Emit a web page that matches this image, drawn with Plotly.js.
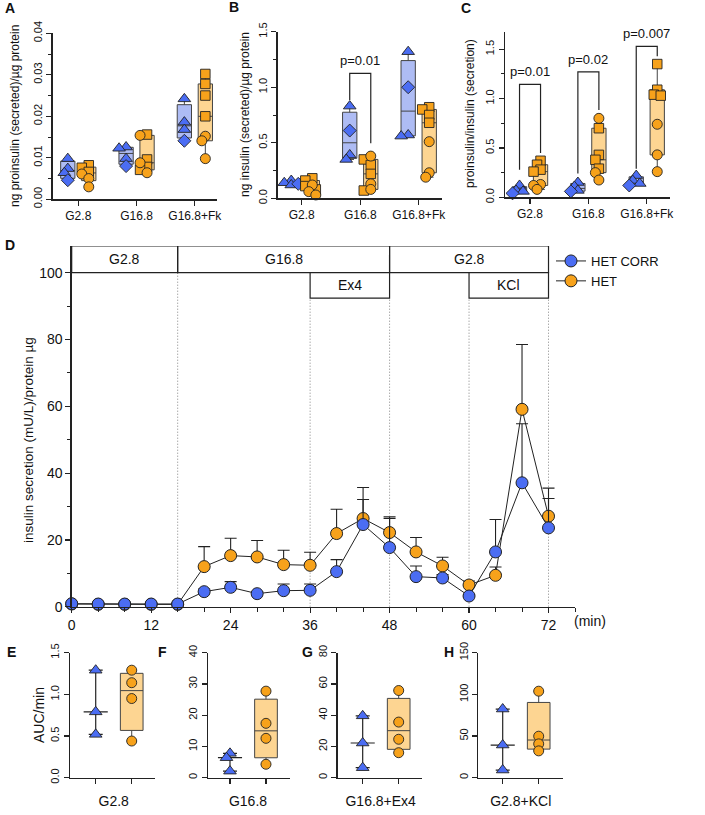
<!DOCTYPE html>
<html>
<head>
<meta charset="utf-8">
<script src="https://cdn.plot.ly/plotly-3.0.1.min.js"></script>
<style>
  html, body { margin: 0; padding: 0; background: #fff; }
  #fig { width: 705px; height: 815px; }
</style>
</head>
<body>
<div id="fig"></div>
<script>
// ---------------- data ----------------
const stimCats = ['G2.8', 'G16.8', 'G16.8+Fk'];

// A: proinsulin secreted (ng / µg protein)
const proinsCorrTri = [[0.0098, 0.0074, 0.0064], [0.0126, 0.0123, 0.0098], [0.0242, 0.0186, 0.0168]];
const proinsCorrDia = [[0.0046], [0.0080], [0.0141]];
const proinsHetSq   = [[0.0082, 0.0076, 0.0066], [0.0156, 0.0096, 0.0078, 0.0071], [0.0302, 0.0278, 0.0250, 0.0200]];
const proinsHetCirc = [[0.0061, 0.0050, 0.0030], [0.0154, 0.0088, 0.0064], [0.0152, 0.0141, 0.0098]];

// B: insulin secreted (ng / µg protein)
const insCorrTri = [[0.16, 0.14, 0.12], [0.83, 0.39, 0.35], [1.32, 0.57, 0.56]];
const insCorrDia = [[0.13], [0.61], [1.00]];
const insHetSq   = [[0.18, 0.16, 0.11, 0.08], [0.35, 0.30, 0.22, 0.07], [0.82, 0.80, 0.75, 0.68]];
const insHetCirc = [[0.12, 0.06, 0.03], [0.38, 0.13, 0.08], [0.51, 0.23, 0.19]];

// C: proinsulin / insulin ratio
const ratioCorrTri = [[0.12, 0.07, 0.06], [0.15, 0.11, 0.07], [0.22, 0.17, 0.14]];
const ratioCorrDia = [[0.04], [0.06], [0.12]];
const ratioHetSq   = [[0.37, 0.33, 0.28, 0.26], [0.70, 0.43, 0.38, 0.29], [1.35, 1.09, 1.04, 1.03]];
const ratioHetCirc = [[0.13, 0.12, 0.08], [0.80, 0.25, 0.175], [0.74, 0.43, 0.26]];

const pTextB = ['', 'p=0.01', ''];
const pTextC = ['p=0.01', 'p=0.02', 'p=0.007'];

// D: perifusion time course
const timeMin = [0, 4, 8, 12, 16, 20, 24, 28, 32, 36, 40, 44, 48, 52, 56, 60, 64, 68, 72];
const secCorr = [0.9, 0.8, 0.8, 0.8, 0.8, 4.5, 5.8, 3.9, 4.8, 4.9, 10.5, 24.6, 17.7, 9.0, 8.6, 3.2, 16.4, 37.1, 23.6];
const semCorr = [0.3, 0.2, 0.3, 0.2, 0.2, 0.8, 1.7, 0.6, 2.0, 1.9, 3.6, 7.5, 8.7, 3.2, 1.0, 0.5, 9.7, 17.7, 8.8];
const secHet  = [0.8, 0.7, 0.7, 0.7, 0.7, 12.0, 15.3, 14.9, 12.6, 12.4, 21.9, 26.4, 22.2, 16.4, 12.2, 6.5, 9.4, 59.1, 27.1];
const semHet  = [0.2, 0.2, 0.3, 0.2, 0.2, 6.0, 5.2, 4.9, 4.3, 3.9, 7.3, 9.3, 4.7, 4.3, 2.6, 1.2, 2.5, 19.4, 8.4];
const phaseLabels = ['G2.8', 'G16.8', 'G2.8'];
const phaseStart  = [0, 16, 48];
const phaseEnd    = [16, 48, 72];
const addLabels = ['Ex4', 'KCl'];
const addStart  = [36, 60];
const addEnd    = [48, 72];

// E-H: AUC per phase
const aucCats = ['G2.8', 'G16.8', 'G16.8+Ex4', 'G2.8+KCl'];
const aucCorr = [[1.29, 0.79, 0.52], [7.8, 6.4, 2.1], [39.6, 22.2, 6.4], [82.4, 39.2, 9.2]];
const aucHet  = [[1.29, 1.14, 0.95, 0.44], [27.7, 17.4, 12.6, 4.3], [55.8, 35.6, 24.6, 16.0], [103.8, 49.8, 40.6, 32.2]];

// ---------------- style ----------------
const W = 705, H = 815;
const FONT = 'Arial, "Liberation Sans", Helvetica, sans-serif';
const INK = '#222';
const BLUE = '#4b6df3', ORANGE = '#f7a21b';
const BLUE_FILL = '#aebcf4', ORANGE_FILL = '#fdd592';

// panel frames in px (left, right, top, bottom) and axis ranges
const P = {
  A: {l: 52.7, r: 217, t: 33.3, b: 199.3, xr: [-0.439, 2.38], yr: [0, 0.04]},
  B: {l: 277.7, r: 441.5, t: 31.7, b: 198.3, xr: [-0.412, 2.39], yr: [0, 1.5]},
  C: {l: 505, r: 669.5, t: 31.5, b: 197.3, xr: [-0.429, 2.39], yr: [0, 1.68]},
  D: {l: 71.7, r: 575, t: 246, b: 606.7, xr: [0, 76], yr: [0, 108]},
  E: {l: 70, r: 155, t: 652.7, b: 777.7, xr: [-0.714, 1.647], yr: [0, 1.5]},
  F: {l: 208, r: 290, t: 652.7, b: 777.7, xr: [-0.611, 1.667], yr: [0, 40]},
  G: {l: 337.7, r: 421.7, t: 652.7, b: 777.7, xr: [-0.694, 1.639], yr: [0, 80]},
  H: {l: 478.3, r: 562.7, t: 652.7, b: 777.7, xr: [-0.678, 1.667], yr: [0, 150]}
};
const AX = {A: '', B: '2', C: '3', D: '4', E: '5', F: '6', G: '7', H: '8'};
function pxX(g) { return (g.r - g.l) / (g.xr[1] - g.xr[0]); }
function pxY(g) { return (g.b - g.t) / (g.yr[1] - g.yr[0]); }

// quartiles with the (n+1)p rule
function pct(sorted, p) {
  const n = sorted.length, pos = (n + 1) * p;
  if (pos <= 1) return sorted[0];
  if (pos >= n) return sorted[n - 1];
  const lo = Math.floor(pos), fr = pos - lo;
  return sorted[lo - 1] + fr * (sorted[lo] - sorted[lo - 1]);
}
function stats(vals) {
  const s = vals.slice().sort((a, b) => a - b);
  return {min: s[0], max: s[s.length - 1], q1: pct(s, 0.25), med: pct(s, 0.5), q3: pct(s, 0.75)};
}

// small beeswarm so stacked markers step a little sideways
function swarm(vals, pyU, pxU, diam) {
  const order = vals.map((v, i) => i).sort((a, b) => vals[b] - vals[a]);
  const placed = [], res = new Array(vals.length).fill(0);
  const steps = [0, -1, 1, -2, 2];
  order.forEach(i => {
    const yPx = vals[i] * pyU;
    let best = 0, bestGap = -1;
    for (const s of steps) {
      const xPx = s * diam * 0.35;
      const gap = placed.length ? Math.min(...placed.map(p => Math.hypot(p[0] - xPx, p[1] - yPx))) : 1e9;
      if (gap >= diam * 0.5) { best = xPx; bestGap = gap; break; }
      if (gap > bestGap) { bestGap = gap; best = xPx; }
    }
    placed.push([best, yPx]);
    res[i] = best / pxU;
  });
  return res;
}

const traces = [];
const shapes = [];
const annotations = [];
const layout = {
  width: W, height: H, margin: {l: 0, r: 0, t: 0, b: 0},
  paper_bgcolor: '#fff', plot_bgcolor: 'rgba(0,0,0,0)',
  font: {family: FONT, color: '#111', size: 12},
  showlegend: true
};

const axisBase = {
  showline: true, linecolor: INK, linewidth: 1.3,
  ticks: 'outside', ticklen: 5, tickwidth: 1.2, tickcolor: INK,
  showgrid: false, zeroline: false, fixedrange: true
};

function setAxes(key, xExtra, yExtra) {
  const g = P[key], id = AX[key];
  layout['xaxis' + id] = Object.assign({}, axisBase, {
    domain: [g.l / W, g.r / W], range: g.xr, anchor: 'y' + id,
    tickfont: {family: FONT, size: 12, color: '#111'}
  }, xExtra);
  layout['yaxis' + id] = Object.assign({}, axisBase, {
    domain: [1 - g.b / H, 1 - g.t / H], range: g.yr, anchor: 'x' + id,
    tickfont: {family: FONT, size: 11, color: '#111'}, tickangle: -90
  }, yExtra);
}

// group of points + box at given positions
function pointGroup(key, positions, series, color, fill, boxW, whiskerW, plainBox) {
  const g = P[key], id = AX[key];
  const pyU = pxY(g), pxU = pxX(g);
  const xs = series.map(() => []), ys = series.map(() => []);
  const box = {x: [], q1: [], median: [], q3: [], lowerfence: [], upperfence: []};
  positions.forEach((pos, k) => {
    const all = [];
    series.forEach((s, si) => s.vals[k].forEach(v => all.push({v, si})));
    const offs = swarm(all.map(p => p.v), pyU, pxU, 10);
    all.forEach((p, i) => { xs[p.si].push(pos + offs[i]); ys[p.si].push(p.v); });
    const st = stats(all.map(p => p.v));
    box.x.push(pos);
    box.median.push(st.med);
    box.q1.push(plainBox ? st.med : st.q1);
    box.q3.push(plainBox ? st.med : st.q3);
    box.lowerfence.push(st.min);
    box.upperfence.push(st.max);
  });
  traces.push(Object.assign({
    type: 'box', xaxis: 'x' + id, yaxis: 'y' + id, boxpoints: false,
    width: boxW, whiskerwidth: whiskerW, fillcolor: fill,
    line: {color: plainBox ? INK : '#444', width: plainBox ? 1.2 : 1},
    showlegend: false, hoverinfo: 'skip'
  }, box));
  series.forEach((s, si) => {
    traces.push({
      type: 'scatter', mode: 'markers', xaxis: 'x' + id, yaxis: 'y' + id,
      x: xs[si], y: ys[si], cliponaxis: false, showlegend: false, hoverinfo: 'skip',
      marker: {symbol: s.symbol, size: s.size, color: color, line: {color: INK, width: 0.9}}
    });
  });
}

// ---------------- panels A-C ----------------
const OFF = 0.18;
const catPos = stimCats.map((c, i) => i);
const topPanels = [
  {key: 'A', corr: [proinsCorrTri, proinsCorrDia], het: [proinsHetSq, proinsHetCirc], dtick: 0.01, minor: 0.005, fmt: '.2f'},
  {key: 'B', corr: [insCorrTri, insCorrDia], het: [insHetSq, insHetCirc], dtick: 0.5, minor: 0.25, fmt: '.1f'},
  {key: 'C', corr: [ratioCorrTri, ratioCorrDia], het: [ratioHetSq, ratioHetCirc], dtick: 0.5, minor: 0.25, fmt: '.1f'}
];
topPanels.forEach(tp => {
  setAxes(tp.key,
    {tickmode: 'array', tickvals: catPos, ticktext: stimCats},
    {tick0: 0, dtick: tp.dtick, tickformat: tp.fmt,
     minor: {tick0: 0, dtick: tp.minor, ticks: 'outside', ticklen: 3, tickwidth: 1, tickcolor: INK}});
  pointGroup(tp.key, catPos.map(p => p - OFF),
    [{vals: tp.corr[0], symbol: 'triangle-up', size: 11}, {vals: tp.corr[1], symbol: 'diamond', size: 10}],
    BLUE, BLUE_FILL, 0.245, 0.6, false);
  pointGroup(tp.key, catPos.map(p => p + OFF),
    [{vals: tp.het[0], symbol: 'square', size: 9.5}, {vals: tp.het[1], symbol: 'circle', size: 10}],
    ORANGE, ORANGE_FILL, 0.245, 0.6, false);
});

// significance brackets
function bracket(key, cat, top, leftBottom, rightBottom, text) {
  const id = AX[key];
  const x0 = cat - OFF, x1 = cat + OFF;
  shapes.push({type: 'path', xref: 'x' + id, yref: 'y' + id,
    path: `M ${x0} ${leftBottom} L ${x0} ${top} L ${x1} ${top} L ${x1} ${rightBottom}`,
    line: {color: INK, width: 1.2}});
  annotations.push({xref: 'x' + id, yref: 'y' + id, x: cat, y: top, xanchor: 'center', yanchor: 'bottom', yshift: 3,
    text: text, showarrow: false, font: {family: FONT, size: 13, color: '#111'}});
}
bracket('B', 1, 1.125, 0.885, 0.495, pTextB[1]);
bracket('C', 0, 1.145, 0.28, 0.45, pTextC[0]);
bracket('C', 1, 1.27, 0.24, 0.885, pTextC[1]);
bracket('C', 2, 1.53, 0.29, 1.43, pTextC[2]);

// ---------------- panel D ----------------
setAxes('D',
  {tick0: 0, dtick: 12, tickfont: {family: FONT, size: 14, color: '#111'},
   minor: {tick0: 0, dtick: 4, ticks: 'outside', ticklen: 4, tickwidth: 1, tickcolor: INK}},
  {tickmode: 'array', tickvals: [0, 20, 40, 60, 80, 100], tickangle: 0,
   tickfont: {family: FONT, size: 14, color: '#111'},
   minor: {tickmode: 'array', tickvals: [10, 30, 50, 70, 90], ticks: 'outside', ticklen: 3, tickwidth: 1, tickcolor: INK}});

const HDR_TOP = 108, HDR_MID = 100, HDR_LOW = 92.4;
phaseLabels.forEach((lab, i) => {
  shapes.push({type: 'rect', xref: 'x4', yref: 'y4', x0: phaseStart[i], x1: phaseEnd[i], y0: HDR_MID, y1: HDR_TOP,
    line: {color: INK, width: 1.2}, fillcolor: 'rgba(0,0,0,0)'});
  annotations.push({xref: 'x4', yref: 'y4', x: (phaseStart[i] + phaseEnd[i]) / 2, y: (HDR_MID + HDR_TOP) / 2,
    xanchor: 'center', yanchor: 'middle',
    text: lab, showarrow: false, font: {family: FONT, size: 14, color: '#111'}});
});
addLabels.forEach((lab, i) => {
  shapes.push({type: 'rect', xref: 'x4', yref: 'y4', x0: addStart[i], x1: addEnd[i], y0: HDR_LOW, y1: HDR_MID,
    line: {color: INK, width: 1.2}, fillcolor: '#fff'});
  annotations.push({xref: 'x4', yref: 'y4', x: (addStart[i] + addEnd[i]) / 2, y: (HDR_LOW + HDR_MID) / 2,
    xanchor: 'center', yanchor: 'middle',
    text: lab, showarrow: false, font: {family: FONT, size: 14, color: '#111'}});
});
// dotted guides at every solution change
const guideX = [...new Set(phaseStart.slice(1).concat(addStart, addEnd))];
guideX.forEach(x => {
  const covered = addStart.some((s, i) => x >= s && x <= addEnd[i]);
  shapes.push({type: 'line', xref: 'x4', yref: 'y4', x0: x, x1: x, y0: 0, y1: covered ? HDR_LOW : HDR_MID,
    layer: 'below', line: {color: '#666', width: 0.8, dash: '1px,2px'}});
});

function timeTrace(y, sem, color, name, rank) {
  return {
    type: 'scatter', mode: 'lines+markers', xaxis: 'x4', yaxis: 'y4',
    x: timeMin, y: y, name: name, legendrank: rank, cliponaxis: false, hoverinfo: 'skip',
    line: {color: INK, width: 1},
    marker: {symbol: 'circle', size: 12, color: color, line: {color: INK, width: 1}},
    error_y: {type: 'data', symmetric: false, array: sem, arrayminus: sem.map(() => 0),
      color: INK, thickness: 1.1, width: 6}
  };
}
traces.push(timeTrace(secHet, semHet, ORANGE, 'HET', 2));
traces.push(timeTrace(secCorr, semCorr, BLUE, 'HET CORR', 1));

layout.legend = {x: 551 / W, y: 1 - 246 / H, xanchor: 'left', yanchor: 'top',
  bgcolor: 'rgba(0,0,0,0)', font: {family: FONT, size: 13, color: '#111'}, itemwidth: 30};

// ---------------- panels E-H ----------------
['E', 'F', 'G', 'H'].forEach((key, k) => {
  const yt = [{dtick: 0.5, fmt: '.1f'}, {dtick: 10, fmt: 'd'}, {dtick: 20, fmt: 'd'}, {dtick: 50, fmt: 'd'}][k];
  setAxes(key,
    {tickmode: 'array', tickvals: [0.5], ticktext: [aucCats[k]], ticklen: 10, tickcolor: 'rgba(0,0,0,0)',
     tickfont: {family: FONT, size: 14, color: '#111'},
     minor: {tick0: 0, dtick: 1, ticks: 'outside', ticklen: 5, tickwidth: 1.2, tickcolor: INK}},
    {tick0: 0, dtick: yt.dtick, tickformat: yt.fmt});
  pointGroup(key, [0], [{vals: [aucCorr[k]], symbol: 'triangle-up', size: 11}],
    BLUE, 'rgba(0,0,0,0)', 0.67, 0.58, true);
  pointGroup(key, [1], [{vals: [aucHet[k]], symbol: 'circle', size: 10}],
    ORANGE, ORANGE_FILL, 0.63, 0.45, false);
});

// ---------------- text ----------------
function paperText(x, y, text, size, opts) {
  annotations.push(Object.assign({xref: 'paper', yref: 'paper', x: x / W, y: 1 - y / H,
    xanchor: 'center', yanchor: 'middle',
    text: text, showarrow: false, font: {family: FONT, size: size, color: '#111'}}, opts || {}));
}
[['A', 10, 8], ['B', 234, 7], ['C', 466, 8], ['D', 10, 245],
 ['E', 11, 652], ['F', 162, 652], ['G', 307, 652], ['H', 449, 652]].forEach(l =>
  paperText(l[1], l[2], '<b>' + l[0] + '</b>', 14));

paperText(15, 116, 'ng proinsulin (secreted)/µg protein', 12, {textangle: -90});
paperText(245, 115, 'ng insulin (secreted)/µg protein', 12, {textangle: -90});
paperText(470, 114, 'proinsulin/insulin (secretion)', 12, {textangle: -90});
paperText(28, 440, 'insulin secretion (mU/L)/protein µg', 13.5, {textangle: -90});
paperText(39, 715, 'AUC/min', 14, {textangle: -90});
paperText(590, 621, '(min)', 14);

layout.shapes = shapes;
layout.annotations = annotations;

Plotly.newPlot('fig', traces, layout, {staticPlot: true, displayModeBar: false});
</script>
</body>
</html>
